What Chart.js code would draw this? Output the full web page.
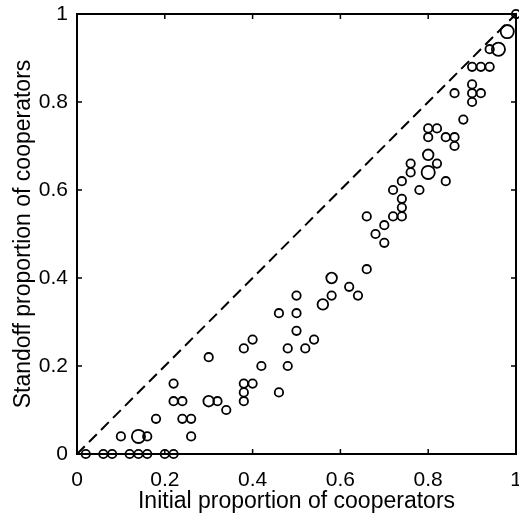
<!DOCTYPE html>
<html>
<head>
<meta charset="utf-8">
<script src="https://cdn.jsdelivr.net/npm/chart.js@4.4.1/dist/chart.umd.min.js"></script>
<style>
  html, body { margin: 0; padding: 0; background: #fff; }
  #wrap { width: 519px; height: 515px; }
</style>
</head>
<body>
<div id="wrap"><canvas id="grafica"></canvas></div>
<script>
// proporcion inicial de cooperadores (eje X)
const initialProp = [
  0.02, 0.06, 0.08, 0.12, 0.14, 0.16, 0.20, 0.22,
  0.10, 0.14, 0.16, 0.18, 0.22, 0.22, 0.24, 0.24, 0.26, 0.26,
  0.30, 0.30, 0.32, 0.34, 0.38, 0.40, 0.38, 0.40, 0.38, 0.38,
  0.42, 0.46, 0.48, 0.48, 0.52, 0.54, 0.50, 0.46, 0.50, 0.50,
  0.56, 0.58, 0.58, 0.62, 0.64, 0.66, 0.68, 0.70, 0.70, 0.66,
  0.72, 0.74, 0.74, 0.74, 0.72, 0.78, 0.74, 0.76, 0.76, 0.80,
  0.80, 0.82, 0.84, 0.80, 0.80, 0.82, 0.84, 0.86, 0.86, 0.88,
  0.86, 0.90, 0.92, 0.90, 0.90, 0.90, 0.92, 0.94, 0.94, 0.96,
  0.98, 1.00
];
// proporcion de cooperadores en el standoff (eje Y)
const standoffProp = [
  0, 0, 0, 0, 0, 0, 0, 0,
  0.04, 0.04, 0.04, 0.08, 0.16, 0.12, 0.12, 0.08, 0.08, 0.04,
  0.22, 0.12, 0.12, 0.10, 0.24, 0.26, 0.16, 0.16, 0.14, 0.12,
  0.20, 0.14, 0.24, 0.20, 0.24, 0.26, 0.28, 0.32, 0.32, 0.36,
  0.34, 0.36, 0.40, 0.38, 0.36, 0.42, 0.50, 0.48, 0.52, 0.54,
  0.54, 0.54, 0.56, 0.58, 0.60, 0.60, 0.62, 0.64, 0.66, 0.64,
  0.68, 0.66, 0.62, 0.72, 0.74, 0.74, 0.72, 0.72, 0.70, 0.76,
  0.82, 0.82, 0.82, 0.80, 0.84, 0.88, 0.88, 0.88, 0.92, 0.92,
  0.96, 1.00
];
// cantidad de observaciones superpuestas en cada punto
const obsCount = [
  1, 1, 1, 1, 1, 1, 1, 1,
  1, 3, 1, 1, 1, 1, 1, 1, 1, 1,
  1, 2, 1, 1, 1, 1, 1, 1, 1, 1,
  1, 1, 1, 1, 1, 1, 1, 1, 1, 1,
  2, 1, 2, 1, 1, 1, 1, 1, 1, 1,
  1, 1, 1, 1, 1, 1, 1, 1, 1, 3,
  2, 1, 1, 1, 1, 1, 1, 1, 1, 1,
  1, 1, 1, 1, 1, 1, 1, 1, 1, 3,
  3, 1
];
// linea diagonal (igualdad)
const diagX = [0, 1];
const diagY = [0, 1];
const tickValues = [0, 0.2, 0.4, 0.6, 0.8, 1];

const fuente = "'Liberation Sans', Arial, sans-serif";
const radios = { 1: 4.2, 2: 5.3, 3: 6.6 };

const puntos = initialProp.map((x, i) => ({ x: x, y: standoffProp[i] }));
const diagonal = diagX.map((x, i) => ({ x: x, y: diagY[i] }));

// marco y ticks hacia adentro, estilo MATLAB
const marcoPlugin = {
  id: 'marco',
  afterDraw(chart) {
    const ctx = chart.ctx;
    const a = chart.chartArea;
    const sx = chart.scales.x, sy = chart.scales.y;
    const largo = 5;
    ctx.save();
    ctx.strokeStyle = '#000';
    ctx.lineWidth = 2;
    ctx.strokeRect(a.left, a.top, a.right - a.left, a.bottom - a.top);
    ctx.lineWidth = 1.5;
    ctx.beginPath();
    tickValues.forEach(v => {
      const px = sx.getPixelForValue(v);
      ctx.moveTo(px, a.bottom); ctx.lineTo(px, a.bottom - largo);
      ctx.moveTo(px, a.top); ctx.lineTo(px, a.top + largo);
      const py = sy.getPixelForValue(v);
      ctx.moveTo(a.left, py); ctx.lineTo(a.left + largo, py);
      ctx.moveTo(a.right, py); ctx.lineTo(a.right - largo, py);
    });
    ctx.stroke();
    ctx.restore();
  }
};

const etiqueta = v => String(Math.round(v * 10) / 10);

new Chart(document.getElementById('grafica'), {
  type: 'scatter',
  data: {
    datasets: [
      {
        type: 'line',
        data: diagonal,
        borderColor: '#000',
        borderWidth: 2,
        borderDash: [11, 6],
        pointRadius: 0,
        fill: false,
        clip: false
      },
      {
        data: puntos,
        borderColor: '#000',
        backgroundColor: 'rgba(0,0,0,0)',
        borderWidth: 1.8,
        pointRadius: c => radios[obsCount[c.dataIndex]] || 4,
        pointHoverRadius: c => radios[obsCount[c.dataIndex]] || 4,
        clip: false
      }
    ]
  },
  options: {
    responsive: true,
    maintainAspectRatio: false,
    animation: false,
    events: [],
    layout: { autoPadding: false, padding: { top: 14, right: 3, left: 0, bottom: 0 } },
    plugins: {
      legend: { display: false },
      tooltip: { enabled: false }
    },
    scales: {
      x: {
        type: 'linear',
        min: 0, max: 1,
        afterBuildTicks: s => { s.ticks = tickValues.map(v => ({ value: v })); },
        afterFit: s => { s.height = 61; s.paddingRight = 0; s.paddingLeft = 0; },
        grid: { display: false, drawTicks: false },
        border: { display: false },
        ticks: { color: '#000', padding: 14, callback: etiqueta, font: { family: fuente, size: 21 }, maxRotation: 0 },
        title: {
          display: true,
          text: 'Initial proportion of cooperators',
          color: '#000',
          font: { family: fuente, size: 23 },
          padding: { top: 0, bottom: 0 }
        }
      },
      y: {
        type: 'linear',
        min: 0, max: 1,
        afterBuildTicks: s => { s.ticks = tickValues.map(v => ({ value: v })); },
        afterFit: s => { s.width = 77; s.paddingTop = 0; s.paddingBottom = 0; },
        grid: { display: false, drawTicks: false },
        border: { display: false },
        ticks: { color: '#000', padding: 9, callback: etiqueta, font: { family: fuente, size: 21 } },
        title: {
          display: true,
          text: 'Standoff proportion of cooperators',
          color: '#000',
          font: { family: fuente, size: 23 },
          padding: { top: 10, bottom: 0 }
        }
      }
    }
  },
  plugins: [marcoPlugin]
});
</script>
</body>
</html>
